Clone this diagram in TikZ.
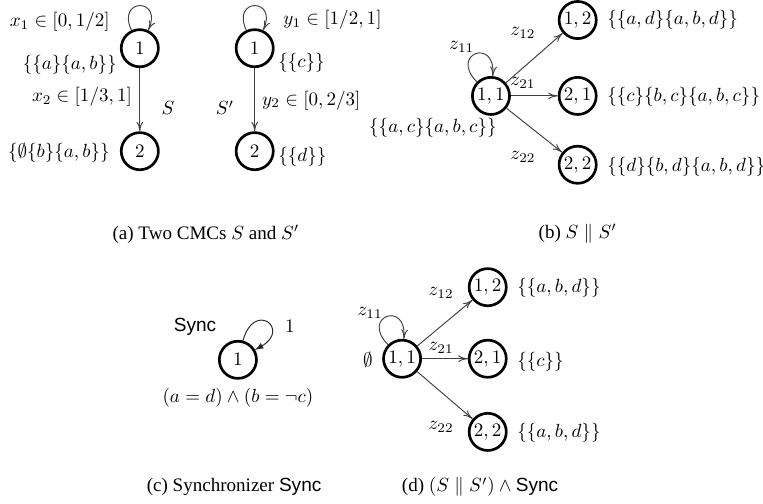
\documentclass[tikz,border=0pt]{standalone}
\usepackage[no-math]{fontspec}
\setsansfont{Liberation Sans}
\newfontfamily\capfont{Liberation Serif}
\usepackage{amsmath}
\usetikzlibrary{positioning,arrows,arrows.meta,calc}
\newcommand{\Sync}{\textsf{Sync}}
\tikzset{
    loc/.style={
        circle,
        draw,
        line width=1.4pt,
        minimum size=19.5pt,
        inner sep=0pt
    },
    trans/.style={
        ->,
        >={To[length=5pt,width=3.6pt]},
        black!75,
        line width=0.5pt
    },
    txt/.style={
        inner sep=0pt
    },
    capt/.style={
        inner sep=0pt,
        font=\capfont
    }
}
\begin{document}
\begin{tikzpicture}
    \useasboundingbox (0,0) rectangle (14.08,9.30);

    % (a) the two CMCs S and S'
    \node[loc] (s1) at (2.58,8.41) {$1$};
    \node[loc] (s2) at (2.58,6.51) {$2$};
    \node[loc] (t1) at (4.70,8.41) {$1$};
    \node[loc] (t2) at (4.70,6.51) {$2$};

    \node[txt, anchor=east] (s1x) at (2.03,8.89) {$x_1\in[0,1/2]$};
    \node[txt, anchor=east] (s1v) at (2.16,8.10) {$\{\{a\}\{a,b\}\}$};
    \node[txt, anchor=east] (s2x) at (2.44,7.51) {$x_2\in[1/3,1]$};
    \node[txt] (sname) at (3.10,7.31) {$S$};
    \node[txt, anchor=east] (s2v) at (2.03,6.48) {$\{\emptyset\{b\}\{a,b\}\}$};

    \node[txt, anchor=west] (t1y) at (5.22,8.93) {$y_1\in[1/2,1]$};
    \node[txt, anchor=west] (t1v) at (5.13,8.14) {$\{\{c\}\}$};
    \node[txt, anchor=west] (t2y) at (4.83,7.45) {$y_2\in[0,2/3]$};
    \node[txt] (tname) at (4.15,7.31) {$S'$};
    \node[txt, anchor=west] (t2v) at (5.13,6.40) {$\{\{d\}\}$};

    \draw[trans] (s1) to[out=115,in=65,looseness=5.5] (s1);
    \draw[trans] (s1) -- (s2);
    \draw[trans] (t1) to[out=115,in=65,looseness=5.5] (t1);
    \draw[trans] (t1) -- (t2);

    \node[capt] (capa) at (3.80,4.98) {(a) Two CMCs $S$ and $S'$};

    % (b) the product S || S'
    \node[loc] (b11) at (9.06,7.53) {$1,1$};
    \node[loc] (b12) at (10.66,8.93) {$1,2$};
    \node[loc] (b21) at (10.66,7.53) {$2,1$};
    \node[loc] (b22) at (10.66,6.26) {$2,2$};

    \node[txt, anchor=east] (b11v) at (9.17,6.94) {$\{\{a,c\}\{a,b,c\}\}$};
    \node[txt, anchor=west] (b12v) at (11.20,8.93) {$\{\{a,d\}\{a,b,d\}\}$};
    \node[txt, anchor=west] (b21v) at (11.20,7.51) {$\{\{c\}\{b,c\}\{a,b,c\}\}$};
    \node[txt, anchor=west] (b22v) at (11.20,6.22) {$\{\{d\}\{b,d\}\{a,b,d\}\}$};

    \draw[trans] (b11) to[out=135,in=85,looseness=6] (b11);
    \draw[trans] (b11) -- (b12);
    \draw[trans] (b11) -- (b21);
    \draw[trans] (b11) -- (b22);

    \node[txt] (bz11) at (8.52,8.43) {$z_{11}$};
    \node[txt] (bz12) at (9.65,8.69) {$z_{12}$};
    \node[txt] (bz21) at (9.65,7.77) {$z_{21}$};
    \node[txt] (bz22) at (9.65,6.40) {$z_{22}$};

    \node[capt] (capb) at (10.66,4.98) {(b) $S\parallel S'$};

    % (c) the synchronizer
    \node[loc] (c1) at (4.39,2.66) {$1$};
    \node[txt] (cname) at (3.60,3.27) {\Sync};
    \node[txt] (cprob) at (5.35,3.27) {$1$};
    \node[txt] (cform) at (4.39,1.96) {$(a=d)\wedge(b=\neg c)$};
    \draw[-latex, black!85, line width=0.5pt] (c1) to[out=75,in=30,looseness=7] (c1);

    \node[capt] (capc) at (4.32,0.31) {(c) Synchronizer \Sync};

    % (d) the synchronized product
    \node[loc] (d11) at (7.42,2.68) {$1,1$};
    \node[loc] (d12) at (9.00,4.00) {$1,2$};
    \node[loc] (d21) at (9.00,2.68) {$2,1$};
    \node[loc] (d22) at (9.00,1.33) {$2,2$};

    \node[txt] (d11v) at (6.79,2.66) {$\emptyset$};
    \node[txt, anchor=west] (d12v) at (9.54,3.99) {$\{\{a,b,d\}\}$};
    \node[txt, anchor=west] (d21v) at (9.54,2.62) {$\{\{c\}\}$};
    \node[txt, anchor=west] (d22v) at (9.54,1.31) {$\{\{a,b,d\}\}$};

    \draw[trans] (d11) to[out=135,in=85,looseness=6] (d11);
    \draw[trans] (d11) -- (d12);
    \draw[trans] (d11) -- (d21);
    \draw[trans] (d11) -- (d22);

    \node[txt] (dz11) at (6.83,3.52) {$z_{11}$};
    \node[txt] (dz12) at (8.14,3.89) {$z_{12}$};
    \node[txt] (dz21) at (8.14,2.88) {$z_{21}$};
    \node[txt] (dz22) at (8.14,1.42) {$z_{22}$};

    \node[capt] (capd) at (8.86,0.31) {(d) $(S\parallel S')\wedge{}$\Sync};
\end{tikzpicture}
\end{document}
